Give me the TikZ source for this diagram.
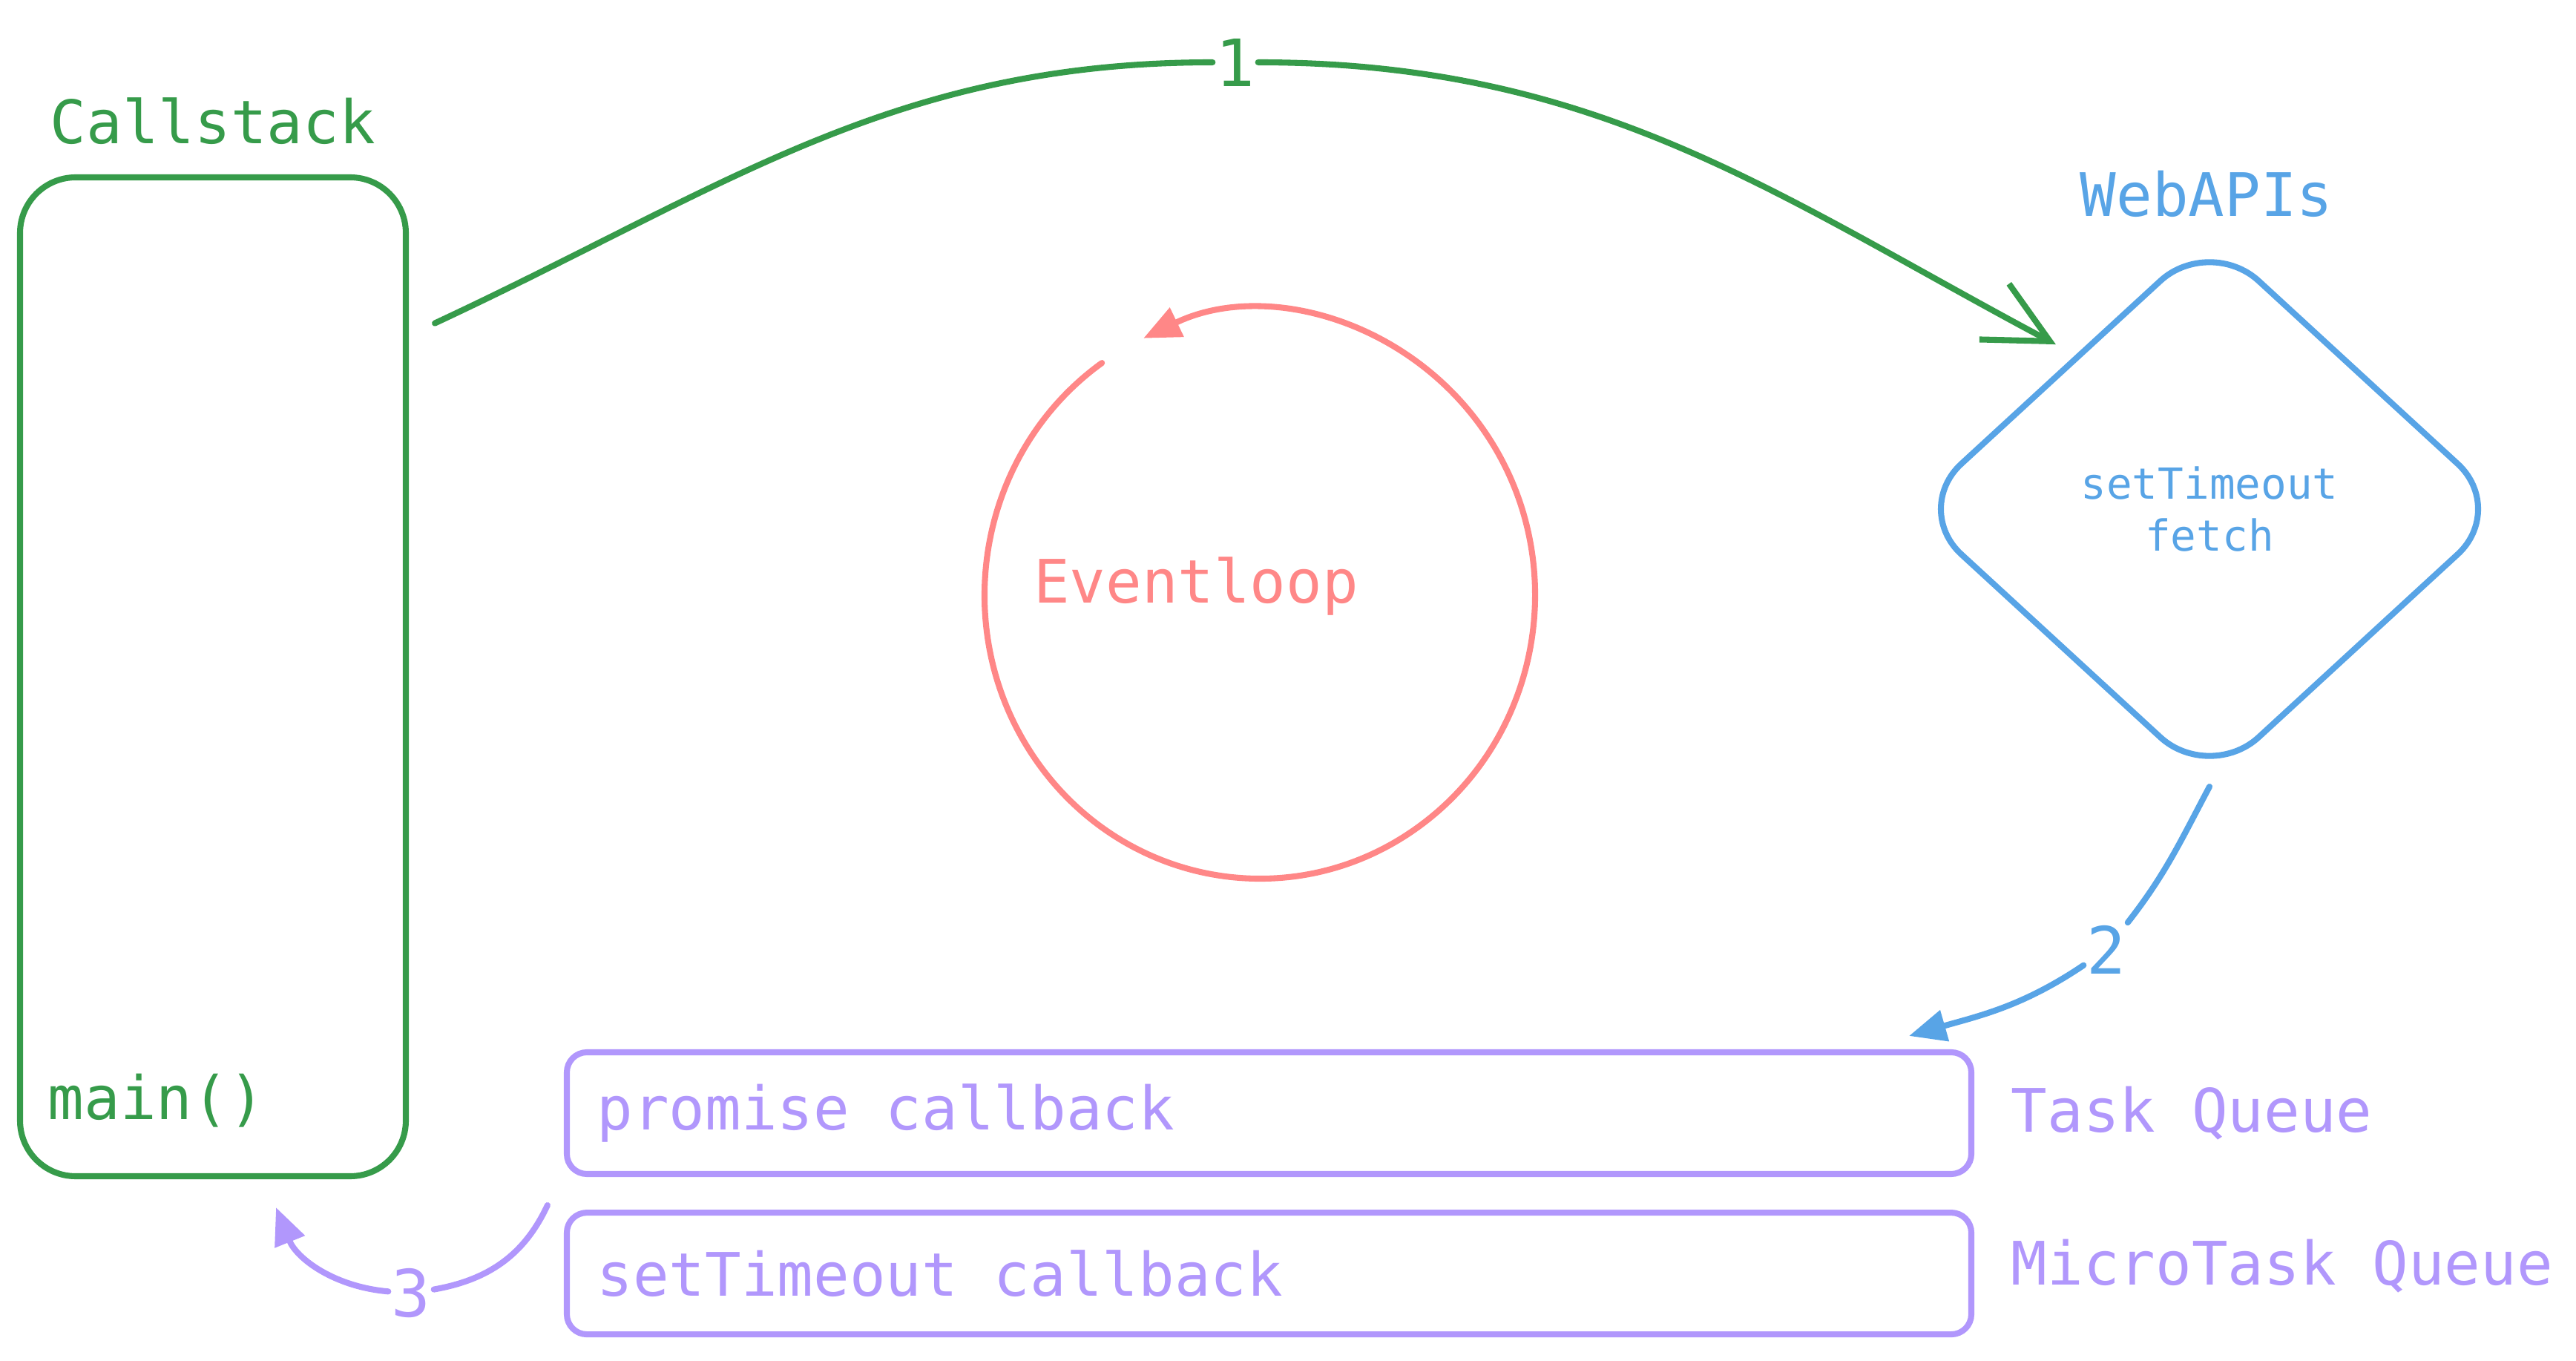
\documentclass[tikz,border=0pt]{standalone}
\usepackage{fontspec}
\setmonofont{DejaVu Sans Mono}
\usepackage{tikz}
\usepackage{xcolor}
\usetikzlibrary{calc}
\usetikzlibrary{positioning}
\usetikzlibrary{shapes.geometric}
\usetikzlibrary{arrows.meta}
\definecolor{green2}{RGB}{54, 155, 74}
\definecolor{blue2}{RGB}{88, 164, 230}
\definecolor{red2}{RGB}{255, 135, 135}
\definecolor{violet2}{RGB}{177, 151, 252}
\def\thickness{thickline}
\tikzset{
thickline/.style={line width=2.3pt, line cap=round, line join=round},
bigtext/.style={font=\ttfamily\fontsize{23}{28}\selectfont, inner sep=0pt},
smalltext/.style={font=\ttfamily\fontsize{16.4}{19.9}\selectfont, inner sep=0pt, align=center},
stepnum/.style={font=\ttfamily\fontsize{25}{30}\selectfont, inner sep=1pt},
tri/.style={\thickness, -{Triangle[length=0.5cm, width=0.42cm]}},
barb/.style={\thickness, -{Straight Barb[length=0.85cm, width=0.85cm]}},
stackbox/.style={draw=green2, \thickness, rounded corners=0.75cm, minimum width=5.2cm, minimum height=13.46cm},
webbox/.style={diamond, aspect=1.09, draw=blue2, \thickness, rounded corners=0.9cm, minimum width=8.05cm, minimum height=7.4cm, smalltext, text=blue2},
queue/.style={draw=violet2, \thickness, rounded corners=0.27cm, minimum height=1.64cm, minimum width=18.93cm, inner sep=0pt},
}
\begin{document}
\begin{tikzpicture}[node distance=0.5cm]
\useasboundingbox (0,0) rectangle (34.72,-18.34);
%Place the nodes
\node[stackbox] (stack) at (2.87,-9.12) {};
\node[bigtext, text=green2, above=0.4cm of stack] (stacktitle) {Callstack};
\node[bigtext, text=green2, anchor=west] (main) at (0.64,-14.83) {main()};

\node[webbox] (web) at (29.78,-6.86) {setTimeout\\fetch};
\node[bigtext, text=blue2] (webtitle) at (29.74,-2.61) {WebAPIs};

\coordinate (loopc) at (16.98,-8.02);
\node[bigtext, text=red2] (loop) at (16.12,-7.90) {Eventloop};

\node[queue] (task) at (17.105,-15.0) {};
\node[queue, below=0.44cm of task] (micro) {};
\node[bigtext, text=violet2, right=0.44cm of task.west] (promise) {promise callback};
\node[bigtext, text=violet2, right=0.44cm of micro.west] (timeout) {setTimeout callback};
\node[bigtext, text=violet2, right=0.49cm of task] (tasktitle) {Task Queue};
\node[bigtext, text=violet2, right=0.49cm of micro, yshift=0.1cm] (microtitle) {MicroTask Queue};

\node[stepnum, text=green2] (one) at (16.65,-0.84) {1};
\node[stepnum, text=blue2] (two) at (28.39,-12.80) {2};
\node[stepnum, text=violet2] (three) at (5.54,-17.43) {3};

%
\draw[red2, tri] (loopc) ++(125:3.71 and 3.82) arc[start angle=125, end angle=475, x radius=3.71, y radius=3.82];

%
\draw[green2, barb, shorten >=0.3cm] ([xshift=0.35cm]stack.61) to[out=25, in=180] (one) to[out=0, in=152] (web.131);
\draw[blue2, tri] (web.south) to[out=-118, in=52] (two) to[out=214, in=16] ([xshift=-0.88cm, yshift=0.18cm]task.north east);
\draw[violet2, tri] ([xshift=-0.22cm, yshift=0.06cm]micro.north west) to[out=-115, in=10] (three) to[out=175, in=-68] ([xshift=0.85cm, yshift=-0.38cm]stack.south);
\end{tikzpicture}
\end{document}
